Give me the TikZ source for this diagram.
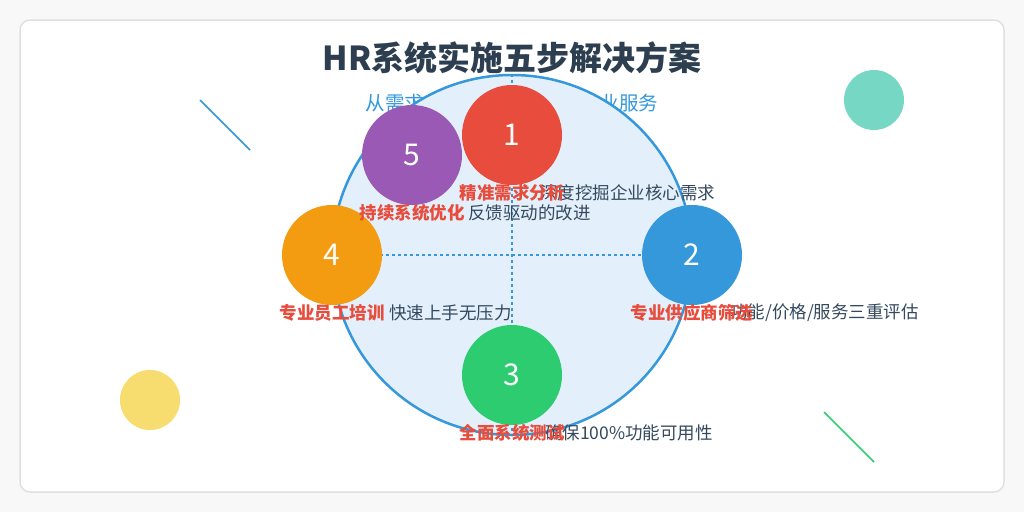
\documentclass[tikz,border=0pt]{standalone}
\usepackage{fontspec}
\setmainfont{Noto Sans CJK SC}
\definecolor{bgc}{HTML}{F8F8F8}
\definecolor{dark}{HTML}{2C3E50}
\definecolor{textc}{HTML}{34495E}
\definecolor{blu}{HTML}{3498DB}
\definecolor{pale}{HTML}{E3F0FB}
\definecolor{redc}{HTML}{E74C3C}
\definecolor{grn}{HTML}{2ECC71}
\definecolor{org}{HTML}{F39C12}
\definecolor{pur}{HTML}{9B59B6}
\definecolor{teal}{HTML}{76D7C4}
\definecolor{yel}{HTML}{F7DC6F}
\tikzset{
  stepdot/.style={circle, minimum size=100pt, inner sep=0pt, text=white, font=\fontsize{30}{32}\selectfont},
  steptitle/.style={text=redc, font=\bfseries\fontsize{17.5}{19}\selectfont, inner sep=0pt},
  stepnote/.style={text=textc, font=\fontsize{17.5}{19}\selectfont, inner sep=0pt, anchor=west}
}
\begin{document}
\begin{tikzpicture}[x=1pt, y=-1pt]
\fill[bgc] (0,0) rectangle (1024,512);
\filldraw[fill=white, draw=black!12, line width=1.5pt, rounded corners=10pt] (20,20) rectangle (1004,492);
% decorations
\draw[blu, line width=1.5pt] (200,100) -- (250,150);
\draw[grn, line width=1.5pt] (824,412) -- (874,462);
\fill[teal] (874,100) circle (30);
\fill[yel] (150,400) circle (30);
% heading
\node[text=dark, font=\bfseries\fontsize{33}{35}\selectfont] (title) at (512,58) {HR系统实施五步解决方案};
\node[text=blu, font=\fontsize{19.5}{21}\selectfont] (sub) at (512,103) {从需求分析到持续优化的专业服务};
% hub
\node[circle, minimum size=360pt, fill=pale, draw=blu, line width=2.5pt] (hub) at (512,255) {};
\draw[blu, dashed, line width=1.2pt] (hub.north) -- (hub.south);
\draw[blu, dashed, line width=1.2pt] (332,255) -- (692,255);
% steps
\node[stepdot, fill=redc] (s1) at (512,135) {1};
\node[stepdot, fill=blu] (s2) at (692,255) {2};
\node[stepdot, fill=grn] (s3) at (512,375) {3};
\node[stepdot, fill=org] (s4) at (332,255) {4};
\node[stepdot, fill=pur] (s5) at (412,155) {5};
% labels
\node[stepnote] (n1) at (540,193) {深度挖掘企业核心需求};
\node[steptitle] (t1) at (512,193) {精准需求分析};
\node[stepnote] (n2) at (730,313) {功能/价格/服务三重评估};
\node[steptitle] (t2) at (692,313) {专业供应商筛选};
\node[stepnote] (n3) at (545,433) {确保100\%功能可用性};
\node[steptitle] (t3) at (512,433) {全面系统测试};
\node[stepnote] (n4) at (389,313) {快速上手无压力};
\node[steptitle] (t4) at (332,313) {专业员工培训};
\node[stepnote] (n5) at (468,213) {反馈驱动的改进};
\node[steptitle] (t5) at (412,213) {持续系统优化};
\end{tikzpicture}
\end{document}
